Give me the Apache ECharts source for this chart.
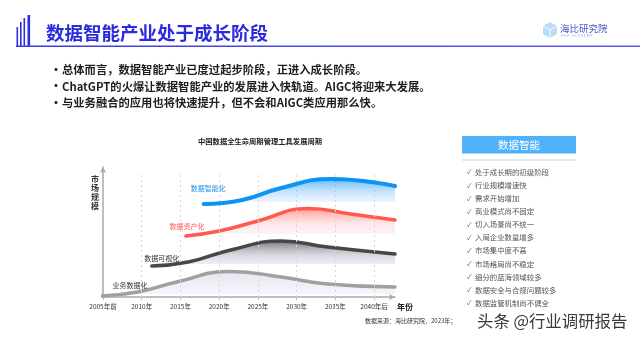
<!DOCTYPE html>
<html><head><meta charset="utf-8">
<script src="https://cdn.jsdelivr.net/npm/echarts@6/dist/echarts.min.js"></script>
<style>html,body{margin:0;padding:0;background:#fff}#c{width:640px;height:360px}</style>
</head><body><div id="c"></div>
<script>
// ---- data ----
const tickYears = [2005, 2010, 2015, 2020, 2025, 2030, 2035, 2040];
const tickLabels = ['2005年前', '2010年', '2015年', '2020年', '2025年', '2030年', '2035年', '2040年后'];

const seriesNames = ['业务数据化', '数据可视化', '数据资产化', '数据智能化'];

const bizYears = [2004.7, 2009.5, 2014.5, 2021.5, 2028.0, 2034.0, 2042.7];
const bizVals  = [1, 5, 15, 25.5, 20, 13, 10];

const visYears = [2011.3, 2016.0, 2021.5, 2028.0, 2034.0, 2042.7];
const visVals  = [31, 35, 47, 56, 50, 43];

const assetYears = [2015.7, 2020.0, 2025.0, 2031.5, 2037.0, 2042.7];
const assetVals  = [61, 66, 76, 88.5, 83, 77];

const intelYears = [2018.0, 2023.0, 2028.0, 2034.5, 2042.7];
const intelVals  = [93, 97, 109, 118, 111];

const bullets = [
  '总体而言，数据智能产业已度过起步阶段，正进入成长阶段。',
  'ChatGPT的火爆让数据智能产业的发展进入快轨道。AIGC将迎来大发展。',
  '与业务融合的应用也将快速提升，但不会和AIGC类应用那么快。'
];
const panelTitle = '数据智能';
const panelItems = [
  '处于成长期的初级阶段', '行业规模增速快', '需求开始增加', '商业模式尚不固定',
  '切入场景尚不统一', '入局企业数量增多', '市场集中度不高', '市场格局尚不稳定',
  '细分的蓝海领域较多', '数据安全与合规问题较多', '数据监管机制尚不健全'
];

// ---- helpers ----
const F = '"Noto Sans CJK SC", "Noto Sans", sans-serif';
const pts = (xs, vs) => xs.map((x, i) => [x, vs[i]]);
const grad = (stops) => ({
  type: 'linear', x: 0, y: 0, x2: 0, y2: 1,
  colorStops: stops.map(s => ({ offset: s[0], color: s[1] }))
});

function curve(name, xs, vs, color, width, fill, origin, labelPos, labelColor, z) {
  return {
    name, type: 'line', data: pts(xs, vs), smooth: 0.5,
    showSymbol: false, symbol: 'none', z,
    lineStyle: { color, width, cap: 'round' },
    areaStyle: { origin, color: fill },
    markPoint: {
      symbol: 'circle', symbolSize: 1, silent: true,
      itemStyle: { color: 'rgba(0,0,0,0)' },
      label: { show: true, position: 'inside', formatter: name, color: labelColor, fontSize: 7, fontFamily: F },
      data: [{ coord: labelPos }]
    }
  };
}

const g = [];
// header icon bars
[[16.5, 27, 1.6], [20, 22, 1.6], [23.5, 18, 1.6], [27.5, 15, 2.6]].forEach(b => {
  g.push({ type: 'rect', shape: { x: b[0], y: b[1], width: b[2], height: 46 - b[1] }, style: { fill: '#2d2de2' } });
});
g.push({ type: 'rect', shape: { x: 16, y: 45.5, width: 624, height: 1.6 },
  style: { fill: { type: 'linear', x: 0, y: 0, x2: 1, y2: 0, colorStops: [{ offset: 0, color: '#3b3be4' }, { offset: 1, color: '#5c5ce8' }] } } });
g.push({ type: 'text', style: { text: '数据智能产业处于成长阶段', x: 46, y: 33, verticalAlign: 'middle',
  font: 'bold 18.5px ' + F, fill: '#2a2ade' } });
// logo
g.push({ type: 'polygon', shape: { points: [[550, 22], [557, 26], [557, 34], [550, 38], [543, 34], [543, 26]] },
  style: { fill: grad([[0, '#c9d6ff'], [1, '#a8e0f5']]) } });
g.push({ type: 'polyline', shape: { points: [[543, 26], [550, 30], [557, 26]] }, style: { stroke: '#ffffff', lineWidth: 1, fill: null } });
g.push({ type: 'line', shape: { x1: 550, y1: 30, x2: 550, y2: 38 }, style: { stroke: '#ffffff', lineWidth: 1 } });
g.push({ type: 'text', style: { text: '海比研究院', x: 560, y: 28.5, verticalAlign: 'middle', font: '9.5px ' + F, fill: '#4f58c8' } });
g.push({ type: 'text', style: { text: 'H A P   A C A D E M Y', x: 561, y: 36, verticalAlign: 'middle', font: '3.5px ' + F, fill: '#9aa0d8' } });
// bullets
bullets.forEach((t, i) => {
  const y = 70 + i * 16.5;
  g.push({ type: 'text', style: { text: '•', x: 50, y, verticalAlign: 'middle', font: 'bold 12px ' + F, fill: '#222' } });
  g.push({ type: 'text', style: { text: t, x: 62, y, verticalAlign: 'middle', font: 'bold 11.3px ' + F, fill: '#1e1e1e' } });
});
// y axis name
g.push({ type: 'text', style: { text: '市\n场\n规\n模', x: 95, y: 174, align: 'center', verticalAlign: 'top',
  font: 'bold 8px ' + F, lineHeight: 9, fill: '#333' } });
// right panel
g.push({ type: 'rect', shape: { x: 462, y: 136, width: 114, height: 17.5 }, style: { fill: '#4fb2fb' } });
g.push({ type: 'text', style: { text: panelTitle, x: 519, y: 145, align: 'center', verticalAlign: 'middle', font: '10.5px ' + F, fill: '#fff' } });
g.push({ type: 'rect', shape: { x: 462, y: 159.5, width: 114, height: 1 }, style: { fill: '#d0d0d0' } });
panelItems.forEach((t, i) => {
  const y = 172 + i * 13.1;
  g.push({ type: 'text', style: { text: '✓', x: 467, y, verticalAlign: 'middle', font: '6.5px ' + F, fill: '#555' } });
  g.push({ type: 'text', style: { text: t, x: 475, y, verticalAlign: 'middle', font: '7.4px ' + F, fill: '#555' } });
});
// source + watermark
g.push({ type: 'text', style: { text: '数据来源：海比研究院，2023年；', x: 365, y: 321, verticalAlign: 'middle', font: '6px ' + F, fill: '#333' } });
g.push({ type: 'text', style: { text: '头条 @行业调研报告', x: 477, y: 321, verticalAlign: 'middle', font: '16.4px ' + F, fill: '#3a3a3a' } });

const gridLineData = tickYears.slice(1).map(y => [{ coord: [y, 0] }, { coord: [y, 125] }]);

const option = {
  animation: false,
  backgroundColor: '#fff',
  title: {
    text: '中国数据全生命周期管理工具发展周期', left: 193, top: 133,
    textStyle: { fontSize: 7.3, fontWeight: 'bold', color: '#222', fontFamily: F }
  },
  grid: { left: 103, right: 245, top: 167, bottom: 63 },
  xAxis: {
    type: 'value', min: 2005, max: 2042.7, interval: 5,
    name: '年份', nameLocation: 'end', nameGap: 2,
    nameTextStyle: { fontSize: 8, fontWeight: 'bold', color: '#222', fontFamily: F, verticalAlign: 'top', padding: [6, 0, 0, 0] },
    axisLine: { show: true, symbol: ['none', 'arrow'], symbolSize: [5, 6], lineStyle: { color: '#aaa', width: 1.5 } },
    axisTick: { show: true, length: 3, lineStyle: { color: '#bbb' } },
    axisLabel: {
      fontSize: 6.5, color: '#333', margin: 6, fontFamily: F, showMaxLabel: false,
      formatter: v => { const i = tickYears.indexOf(v); return i >= 0 ? tickLabels[i] : ''; }
    },
    splitLine: { show: false }
  },
  yAxis: {
    type: 'value', min: 0, max: 130,
    axisLine: { show: true, symbol: ['none', 'arrow'], symbolSize: [5, 6], lineStyle: { color: '#aaa', width: 1.5 } },
    axisTick: { show: false }, axisLabel: { show: false }, splitLine: { show: false }
  },
  graphic: g,
  series: [
    { type: 'line', data: [], z: 1, silent: true,
      markLine: { symbol: 'none', silent: true, label: { show: false },
        lineStyle: { type: [2, 3], color: '#d6d6d6', width: 1 }, data: gridLineData } },
    curve(seriesNames[0], bizYears, bizVals, '#a0a0a0', 3.5,
      grad([[0, 'rgba(212,212,228,0.85)'], [1, 'rgba(236,236,250,0.7)']]), 3, [2008.5, 12], '#333', 2),
    curve(seriesNames[1], visYears, visVals, '#474747', 3.5,
      grad([[0, 'rgba(55,55,60,0.95)'], [0.55, 'rgba(160,160,175,0.6)'], [1, 'rgba(228,228,248,0.6)']]), 33, [2012.6, 39], '#333', 3),
    curve(seriesNames[2], assetYears, assetVals, '#ff5a4e', 3.5,
      grad([[0, 'rgba(255,90,78,0.85)'], [0.55, 'rgba(255,185,185,0.5)'], [1, 'rgba(238,232,252,0.5)']]), 63, [2015.85, 71], '#ff5a4e', 4),
    curve(seriesNames[3], intelYears, intelVals, '#0c93f4', 4,
      grad([[0, 'rgba(12,147,244,0.9)'], [0.55, 'rgba(120,190,252,0.55)'], [1, 'rgba(228,234,255,0.5)']]), 95, [2018.6, 109], '#1a90f0', 5)
  ]
};
echarts.init(document.getElementById('c'), null, { renderer: 'canvas' }).setOption(option);
</script>
</body></html>
